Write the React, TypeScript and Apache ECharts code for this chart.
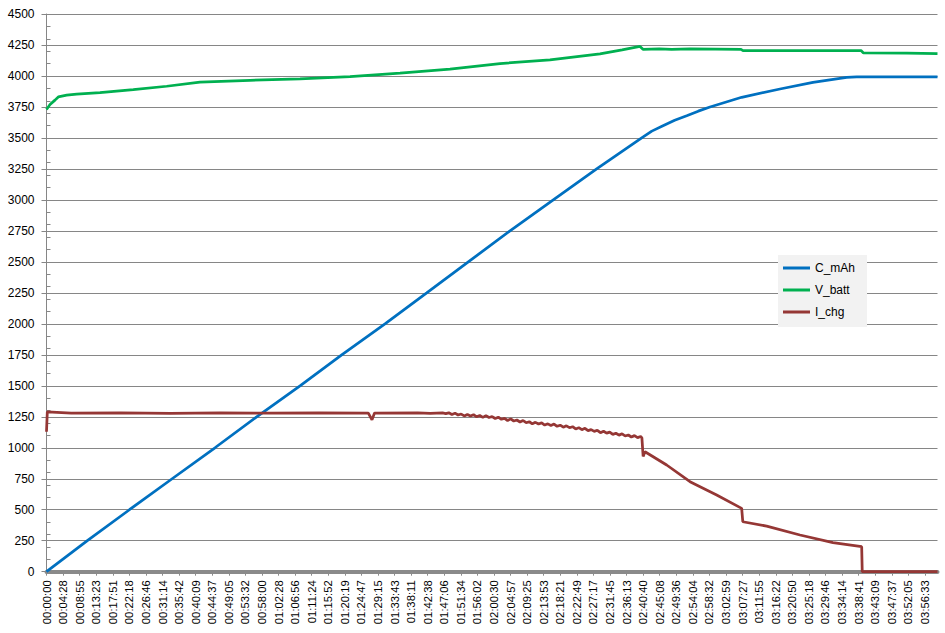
import React, { useEffect, useRef } from "react";
import * as echarts from "echarts";

// X tick labels (elapsed time), one every TICK_STEP seconds
const TICK_LABELS = [
  "00:00:00","00:04:28","00:08:55","00:13:23","00:17:51","00:22:18","00:26:46","00:31:14","00:35:42",
  "00:40:09","00:44:37","00:49:05","00:53:32","00:58:00","01:02:28","01:06:56","01:11:24","01:15:52",
  "01:20:19","01:24:47","01:29:15","01:33:43","01:38:11","01:42:38","01:47:06","01:51:34","01:56:02",
  "02:00:30","02:04:57","02:09:25","02:13:53","02:18:21","02:22:49","02:27:17","02:31:45","02:36:13",
  "02:40:40","02:45:08","02:49:36","02:54:04","02:58:32","03:02:59","03:07:27","03:11:55","03:16:22",
  "03:20:50","03:25:18","03:29:46","03:34:14","03:38:41","03:43:09","03:47:37","03:52:05","03:56:33",
];
const LAST_LABEL_SECONDS = 14193; // 03:56:33
const X_END_SECONDS = 14396;
const Y_TICKS = { min: 0, max: 4500, major: 250, minor: 100 };

// C_mAh (time s, value)
const CAP_T = [0, 660, 1340, 2030, 2722, 3396, 4096, 4770, 5469, 6143, 6815, 7489, 8188, 8889, 9617, 9780, 9961, 10150, 10344, 10530, 10720, 11232, 11851, 12384, 12929, 13090, 14396];
const CAP_V = [0, 250, 500, 750, 1000, 1250, 1500, 1750, 2000, 2250, 2500, 2750, 3000, 3250, 3500, 3555, 3598, 3642, 3679, 3716, 3750, 3828, 3895, 3949, 3989, 3993, 3993];

// V_batt
const VOLT_T = [0, 57, 137, 191, 326, 488, 864, 1402, 1942, 2480, 3288, 4096, 4904, 5712, 6519, 7327, 8135, 8943, 9300, 9589, 9637, 9900, 10100, 10400, 11221, 11253, 13160, 13200, 13900, 14396];
const VOLT_V = [3730, 3770, 3805, 3831, 3845, 3853, 3866, 3890, 3917, 3950, 3965, 3976, 3995, 4022, 4055, 4100, 4130, 4178, 4210, 4238, 4215, 4218, 4215, 4218, 4215, 4205, 4205, 4186, 4184, 4181];

// I_chg
const CURR_T = [
  0, 13, 400, 1200, 2000, 2800, 3600, 4400, 5200, 5259, 5300, 6000, 6200,
  6400, 6450, 6500, 6550, 6600, 6650, 6700, 6750, 6800, 6850, 6900, 6950, 7000, 7050, 7100, 7150,
  7200, 7250, 7300, 7350, 7400, 7450, 7500, 7550, 7600, 7650, 7700, 7750, 7800, 7850, 7900, 7950,
  8000, 8050, 8100, 8150, 8200, 8250, 8300, 8350, 8400, 8450, 8500, 8550, 8600, 8650, 8700, 8750,
  8800, 8850, 8900, 8950, 9000, 9050, 9100, 9150, 9200, 9250, 9300, 9350, 9400, 9450, 9500, 9550,
  9600, 9620, 9640, 9670, 10020, 10397, 10828, 11232, 11250, 11636, 12174, 12707, 13171, 13180, 14396,
];
const CURR_V = [
  1129, 1290, 1280, 1282, 1278, 1281, 1279, 1281, 1279, 1225, 1280, 1281, 1277,
  1281, 1275, 1282, 1269, 1279, 1264, 1272, 1257, 1269, 1256, 1267, 1250, 1260, 1245, 1259, 1244,
  1252, 1236, 1247, 1230, 1237, 1220, 1233, 1216, 1224, 1208, 1220, 1202, 1210, 1193, 1205, 1192,
  1201, 1183, 1193, 1180, 1191, 1173, 1182, 1166, 1177, 1162, 1170, 1152, 1162, 1146, 1157, 1138,
  1146, 1132, 1141, 1122, 1133, 1118, 1126, 1108, 1117, 1102, 1113, 1095, 1103, 1087, 1098, 1082,
  1091, 1080, 930, 968, 861, 726, 619, 511, 403, 368, 296, 234, 202, 0, 0,
];

const SERIES = [
  { name: "C_mAh", t: CAP_T, v: CAP_V, color: "#0070C0" },
  { name: "V_batt", t: VOLT_T, v: VOLT_V, color: "#00B050" },
  { name: "I_chg", t: CURR_T, v: CURR_V, color: "#953735" },
];

export default function App() {
  const ref = useRef<HTMLDivElement>(null);
  useEffect(() => {
    if (!ref.current) return;
    const chart = echarts.init(ref.current, null, { renderer: "svg" });
    const step = LAST_LABEL_SECONDS / (TICK_LABELS.length - 1);
    const font = "Liberation Sans";
    chart.setOption({
      animation: false,
      textStyle: { fontFamily: font },
      grid: { left: 46.5, right: 7.5, top: 14, bottom: 61.3, outerBoundsMode: "none", containLabel: false },
      legend: {
        orient: "vertical",
        left: 778,
        top: 255,
        backgroundColor: "#f2f2f2",
        padding: [7, 12, 9, 5],
        itemGap: 10,
        itemWidth: 27,
        itemHeight: 3,
        icon: "rect",
        textStyle: { fontFamily: font, fontSize: 12, color: "#000" },
        data: SERIES.map((s) => s.name),
      },
      xAxis: {
        type: "value",
        min: 0,
        max: X_END_SECONDS,
        interval: step,
        offset: 1.5,
        axisLine: { show: true, lineStyle: { color: "#8a8a8a", width: 4 } },
        axisTick: { show: true, length: 4, lineStyle: { color: "#8a8a8a" } },
        splitLine: { show: false },
        axisLabel: {
          rotate: 90,
          margin: 7,
          fontSize: 11.3,
          color: "#000",
          fontFamily: font,
          showMaxLabel: false,
          formatter: (v: number) => {
            const i = Math.round(v / step);
            return Math.abs(i * step - v) < 1 ? TICK_LABELS[i] ?? "" : "";
          },
        },
      },
      yAxis: [
        {
          type: "value",
          min: Y_TICKS.min,
          max: Y_TICKS.max,
          interval: Y_TICKS.major,
          axisLine: { show: true, lineStyle: { color: "#868686", width: 1 } },
          axisTick: { show: true, length: 5, lineStyle: { color: "#868686" } },
          splitLine: { show: true, lineStyle: { color: "#868686", width: 1 } },
          axisLabel: { fontSize: 12, color: "#000", margin: 12, fontFamily: font, formatter: (v: number) => String(v) },
        },
        {
          type: "value",
          position: "left",
          min: Y_TICKS.min,
          max: Y_TICKS.max,
          interval: Y_TICKS.minor,
          axisLine: { show: false },
          axisTick: { show: true, inside: true, length: 4, lineStyle: { color: "#868686" } },
          splitLine: { show: false },
          axisLabel: { show: false },
        },
      ],
      series: SERIES.map((s) => ({
        name: s.name,
        type: "line",
        yAxisIndex: 0,
        showSymbol: false,
        symbol: "none",
        color: s.color,
        lineStyle: { color: s.color, width: 2.75 },
        data: s.t.map((t, i) => [t, s.v[i]]),
      })),
    });
    return () => chart.dispose();
  }, []);
  return <div ref={ref} style={{ position: "fixed", left: 0, top: 0, width: 945, height: 633, background: "#fff" }} />;
}
